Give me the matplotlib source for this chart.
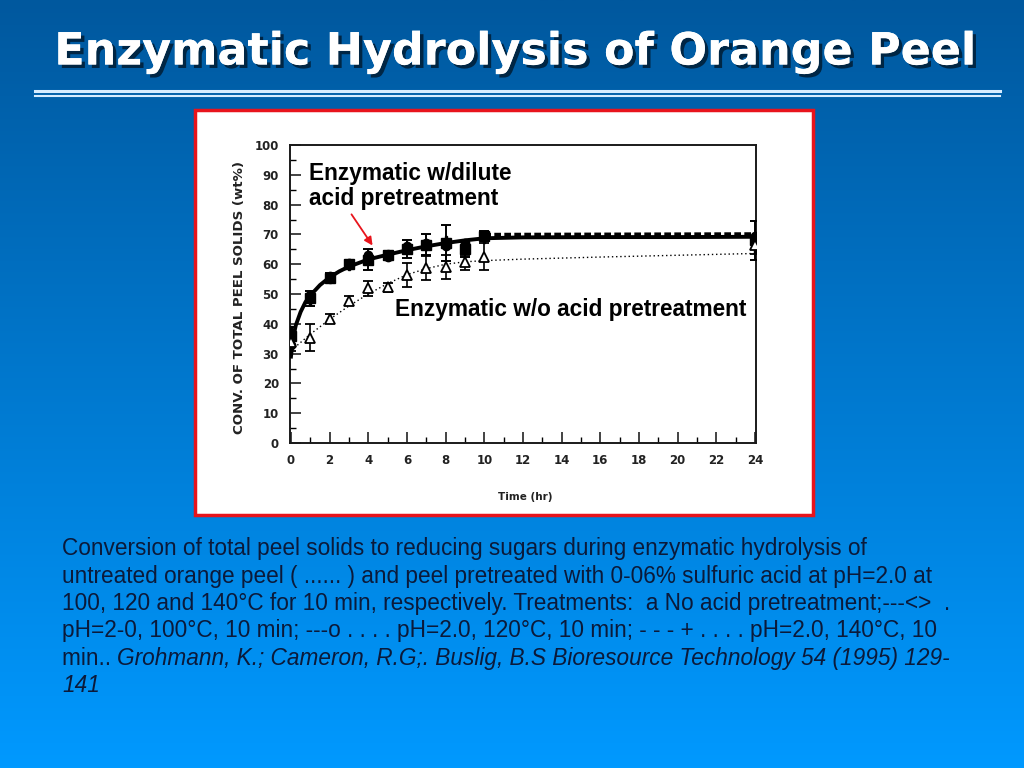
import matplotlib
matplotlib.use("Agg")
import matplotlib.pyplot as plt
import matplotlib.patheffects as pe
import numpy as np
from matplotlib.patches import Rectangle
from matplotlib.lines import Line2D

# ---- data ----
times = [0, 1, 2, 3, 4, 5, 6, 7, 8, 9, 10, 24]

acid_100 = [36, 48.5, 55.5, 60, 61.5, 63, 65, 66.5, 67, 65, 69.5, 68]
acid_100_err = [3, 2.5, 1.5, 1.5, 3.5, 1.5, 3, 3.5, 6, 2.5, 1.5, 6.5]
acid_120 = [33, 49.5, 56, 60.5, 63, 62.5, 66, 67, 66, 67, 69, 69.5]
acid_140 = [38, 47.5, 55, 59.5, 62, 63.5, 65.5, 66, 68, 66, 68.5, 65.5]

no_acid = [34, 35.3, 41.7, 47.7, 51.9, 52.2, 56.4, 58.6, 59, 60.6, 62.5, 66.5]
no_acid_err = [3, 4.5, 1.5, 1.5, 2.5, 1.5, 4, 4, 4, 2.5, 4.5, 3]

# fitted curves as drawn in the figure
fit_t = [0, 0.1, 0.25, 0.5, 0.75, 1, 1.5, 2, 2.5, 3, 4, 5, 6, 7, 8, 9, 10, 12, 16, 20, 24]
fit_acid = [29, 35, 39.5, 44, 47.3, 49.5, 53, 55.6, 57.6, 59.2, 61.6, 63.2, 64.7, 66, 67.1, 68, 68.7, 69, 69.1, 69.1, 69.2]
fit_no_t = [0, 1, 2, 3, 4, 5, 6, 7, 8, 9, 10, 12, 16, 20, 24]
fit_no = [31, 36.5, 41.5, 46, 50, 53.5, 56.5, 58.5, 60, 60.8, 61.2, 61.7, 62.4, 63, 63.6]
dash_t = [10, 24]
dash_y = [69.6, 69.8]

xticks = list(range(0, 25, 2))
yticks = list(range(0, 101, 10))

title = "Enzymatic Hydrolysis of Orange Peel"
caption_lines = [
    "Conversion of total peel solids to reducing sugars during enzymatic hydrolysis of",
    "untreated orange peel ( ...... ) and peel pretreated with 0-06% sulfuric acid at pH=2.0 at",
    "100, 120 and 140\u00b0C for 10 min, respectively. Treatments:  a No acid pretreatment;---<>  .",
    "pH=2-0, 100\u00b0C, 10 min; ---o . . . . pH=2.0, 120\u00b0C, 10 min; - - - + . . . . pH=2.0, 140\u00b0C, 10",
]
caption_tail = "min.. "
citation_lines = [
    "Grohmann, K.; Cameron, R.G;. Buslig, B.S Bioresource Technology 54 (1995) 129-",
    "141",
]

W, H = 1024, 768


def fx(x):
    return x / W


def fy(y):
    return 1 - y / H


fig = plt.figure(figsize=(10.24, 7.68), dpi=100)

# background gradient
bg = fig.add_axes([0, 0, 1, 1], zorder=0)
grad = np.linspace(0, 1, 256)[:, None]
top = np.array([0, 88, 158]) / 255
bot = np.array([0, 153, 255]) / 255
img = top[None, None, :] * (1 - grad[:, :, None]) + bot[None, None, :] * grad[:, :, None]
bg.imshow(img, aspect="auto", extent=[0, 1, 0, 1], origin="upper")
bg.set_axis_off()

# title
fig.text(fx(516), fy(52), title, ha="center", va="center", color="white",
         fontsize=32, fontweight="bold", family="DejaVu Sans",
         path_effects=[pe.withSimplePatchShadow(offset=(2.5, -2.5), shadow_rgbFace="#00203a", alpha=0.9),
                       pe.Normal()], zorder=5)
fig.add_artist(Line2D([fx(35), fx(1000)], [fy(91), fy(91)], color="#d6ecff", lw=2.2, zorder=5))
fig.add_artist(Line2D([fx(35), fx(1000)], [fy(96), fy(96)], color="#d6ecff", lw=1.5, zorder=5))

# white panel with red border
fig.add_artist(Rectangle((fx(195), fy(515)), fx(813) - fx(195), fy(110) - fy(515),
                         transform=fig.transFigure, facecolor="white", edgecolor="#e8141c",
                         lw=2.5, zorder=1))

ax = fig.add_axes([fx(290), fy(443), fx(756) - fx(290), fy(145) - fy(443)], zorder=2)
ax.set_facecolor("white")

ax.plot(fit_t, fit_acid, color="black", lw=2.8, zorder=3)
ax.plot(fit_no_t, fit_no, color="black", lw=1.0, ls=(0, (1, 2)), zorder=3)
ax.plot(dash_t, dash_y, color="black", lw=4, ls=(0, (1.2, 0.6)), zorder=3)

ax.errorbar(times, acid_100, yerr=acid_100_err, fmt="s", color="black", ms=6.5,
            capsize=3.5, elinewidth=1.4, capthick=1.4, zorder=4)
ax.plot(times, acid_120, "o", color="black", ms=6, zorder=4)
ax.plot(times, acid_140, "P", color="black", ms=6, zorder=4)
ax.errorbar(times, no_acid, yerr=no_acid_err, fmt="^", mfc="white", mec="black", ecolor="black",
            ms=6.5, mew=1.3, capsize=3.5, elinewidth=1.2, capthick=1.2, zorder=5)

ax.set_xlim(-0.05, 24.05)
ax.set_ylim(0, 100)
ax.set_xticks(xticks)
ax.set_xticks(range(0, 25), minor=True)
ax.set_yticks(yticks)
ax.set_yticks(range(0, 101, 5), minor=True)
ax.tick_params(axis="both", which="major", direction="in", length=8, width=1.2,
               labelsize=8.5, colors="#222222", pad=8)
ax.tick_params(axis="both", which="minor", direction="in", length=4, width=1.0)
for lab in ax.get_xticklabels() + ax.get_yticklabels():
    lab.set_fontweight("bold")
for s in ax.spines.values():
    s.set_linewidth(1.4)
    s.set_color("#1a1a1a")

fig.text(fx(240), fy(297), "CONV. OF TOTAL PEEL SOLIDS (wt%)", rotation=90, ha="center", va="center",
         fontsize=9.6, fontweight="bold", color="#222222", zorder=3)
fig.text(fx(525), fy(497), "Time (hr)", ha="center", va="center",
         fontsize=7.5, fontweight="bold", color="#222222", zorder=3)

# annotations
ann_font = dict(family="Liberation Sans", fontsize=16.3, fontweight="bold", color="black")
fig.text(fx(309), fy(162), "Enzymatic w/dilute\nacid pretreatment", ha="left", va="top",
         linespacing=1.1, zorder=6, **ann_font)
fig.text(fx(395), fy(310), "Enzymatic w/o acid pretreatment", ha="left", va="center",
         zorder=6, **ann_font)
ax.annotate("", xy=(4.3, 65.5), xytext=(3.05, 77.5),
            arrowprops=dict(arrowstyle="-|>", color="#e8141c", lw=1.3, mutation_scale=12), zorder=6)

# caption
cap_font = dict(family="Liberation Sans", fontsize=16.3, color="#0b1a3a")
y0, dy = 549, 27.3
for i, line in enumerate(caption_lines):
    fig.text(fx(62), fy(y0 + i * dy), line, ha="left", va="center", zorder=6, **cap_font)
t_tail = fig.text(fx(62), fy(y0 + 4 * dy), caption_tail, ha="left", va="center", zorder=6, **cap_font)
fig.canvas.draw()
bb = t_tail.get_window_extent()
fig.text(bb.x1 / fig.dpi / fig.get_figwidth(), fy(y0 + 4 * dy), citation_lines[0], ha="left", va="center",
         style="italic", zorder=6, **cap_font)
fig.text(fx(62), fy(y0 + 5 * dy), citation_lines[1], ha="left", va="center", style="italic",
         zorder=6, **cap_font)

fig.savefig("out.png", dpi=100)
